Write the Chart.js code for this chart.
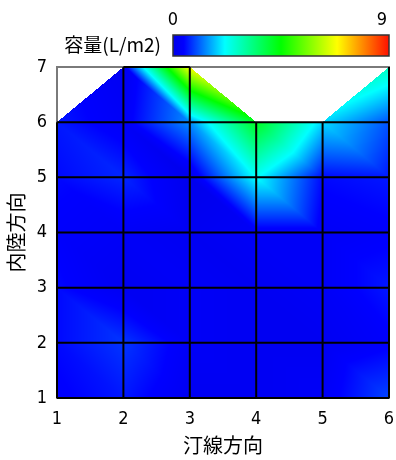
<!DOCTYPE html>
<html>
<head>
<meta charset="utf-8">
<script src="https://cdn.jsdelivr.net/npm/chart.js@4.4.1/dist/chart.umd.min.js"></script>
<style>
  html, body { margin: 0; padding: 0; background: #fff; }
  #wrap { width: 396px; height: 460px; }
</style>
</head>
<body>
<div id="wrap"><canvas id="chart" width="396" height="460"></canvas></div>
<script>
// mesh nodes
const xNodes = [1, 2, 3, 4, 5, 6];
const yNodes = [1, 2, 3, 4, 5, 6, 7];

// capacity (L/m2) at each node, one row per y, bottom row first
const capY1 = [0.4, 0.6, 0.2, 0.2, 0.3, 0.9];
const capY2 = [0.5, 0.8, 0.3, 0.2, 0.2, 0.4];
const capY3 = [0.5, 0.2, 0.3, 0.2, 0.3, 0.6];
const capY4 = [0.4, 0.3, 0.2, 0.3, 0.3, 0.4];
const capY5 = [0.5, 0.7, 0.1, 2.2, 0.5, 0.6];
const capY6 = [0.6, 0.3, 1.4, 4.2, 1.9, 1.0];
const capY7 = [null, 0.2, 6.8, null, null, 2.7];
const capacity = [capY1, capY2, capY3, capY4, capY5, capY6, capY7];

// element shape of each cell: full quad, lower-right / lower-left triangle, or empty
const cellsY1 = ['full', 'full', 'full', 'full', 'full'];
const cellsY2 = ['full', 'full', 'full', 'full', 'full'];
const cellsY3 = ['full', 'full', 'full', 'full', 'full'];
const cellsY4 = ['full', 'full', 'full', 'full', 'full'];
const cellsY5 = ['full', 'full', 'full', 'full', 'full'];
const cellsY6 = ['lr', 'full', 'll', 'none', 'lr'];
const cellShapes = [cellsY1, cellsY2, cellsY3, cellsY4, cellsY5, cellsY6];

const xTicks = [1, 2, 3, 4, 5, 6];
const yTicks = [1, 2, 3, 4, 5, 6, 7];
const colorTicks = [0, 9];

const colorStops = [
  [0.00, [0, 0, 232]],
  [0.05, [0, 0, 255]],
  [0.24, [0, 255, 255]],
  [0.50, [0, 255, 0]],
  [0.76, [255, 255, 0]],
  [1.00, [255, 16, 0]]
];

const numFont = "'Liberation Sans Narrow', 'DejaVu Sans Condensed', sans-serif";
const jpFont = "'Noto Sans CJK JP', sans-serif";

function colorFor(v) {
  const lo = colorTicks[0], hi = colorTicks[colorTicks.length - 1];
  let t = (v - lo) / (hi - lo);
  t = Math.max(0, Math.min(1, t));
  for (let k = 1; k < colorStops.length; k++) {
    const [t1, c1] = colorStops[k];
    const [t0, c0] = colorStops[k - 1];
    if (t <= t1) {
      const f = (t - t0) / (t1 - t0);
      return [0, 1, 2].map(n => Math.round(c0[n] + (c1[n] - c0[n]) * f));
    }
  }
  return colorStops[colorStops.length - 1][1];
}

// nodes of an element, counter-clockwise
function elementNodes(i, j, shape) {
  if (shape === 'full') return [[i, j], [i + 1, j], [i + 1, j + 1], [i, j + 1]];
  if (shape === 'lr') return [[i, j], [i + 1, j], [i + 1, j + 1]];
  if (shape === 'll') return [[i, j], [i + 1, j], [i, j + 1]];
  return [];
}

// linear interpolation on triangles, quads split along the "\" diagonal
function valueAt(xv, yv) {
  let i = 0, j = 0;
  while (i < xNodes.length - 2 && xv > xNodes[i + 1]) i++;
  while (j < yNodes.length - 2 && yv > yNodes[j + 1]) j++;
  const u = (xv - xNodes[i]) / (xNodes[i + 1] - xNodes[i]);
  const v = (yv - yNodes[j]) / (yNodes[j + 1] - yNodes[j]);
  const shape = cellShapes[j][i];
  const v00 = capacity[j][i], v10 = capacity[j][i + 1];
  const v01 = capacity[j + 1][i], v11 = capacity[j + 1][i + 1];
  if (shape === 'none') return null;
  if (shape === 'lr') {
    if (v > u) return null;
    return v00 * (1 - u) + v10 * (u - v) + v11 * v;
  }
  if (shape === 'll' || u + v <= 1) {
    if (u + v > 1) return null;
    return v00 * (1 - u - v) + v10 * u + v01 * v;
  }
  return v11 * (u + v - 1) + v10 * (1 - v) + v01 * (1 - u);
}

const contourPlugin = {
  id: 'contour',
  beforeDatasetsDraw(chart) {
    const { ctx, chartArea: a, scales: { x, y } } = chart;
    const w = Math.round(a.right - a.left), h = Math.round(a.bottom - a.top);
    const off = document.createElement('canvas');
    off.width = w; off.height = h;
    const octx = off.getContext('2d');
    const img = octx.createImageData(w, h);
    for (let py = 0; py < h; py++) {
      const yv = y.getValueForPixel(a.top + py + 0.5);
      for (let px = 0; px < w; px++) {
        const xv = x.getValueForPixel(a.left + px + 0.5);
        const val = valueAt(xv, yv);
        if (val === null) continue;
        const c = colorFor(val);
        const p = (py * w + px) * 4;
        img.data[p] = c[0]; img.data[p + 1] = c[1]; img.data[p + 2] = c[2]; img.data[p + 3] = 255;
      }
    }
    octx.putImageData(img, 0, 0);
    ctx.drawImage(off, Math.round(a.left), Math.round(a.top));
  },
  afterDatasetsDraw(chart) {
    const { ctx, chartArea: a, scales: { x, y } } = chart;
    ctx.save();
    // outer frame
    ctx.strokeStyle = '#7a7a7a';
    ctx.lineWidth = 2;
    ctx.strokeRect(a.left, a.top, a.right - a.left, a.bottom - a.top);
    // mesh edges (axis-aligned sides of each element)
    ctx.strokeStyle = '#000';
    ctx.lineWidth = 2;
    ctx.beginPath();
    cellShapes.forEach((row, j) => row.forEach((shape, i) => {
      const nodes = elementNodes(i, j, shape);
      nodes.forEach((n, k) => {
        const m = nodes[(k + 1) % nodes.length];
        if (n[0] !== m[0] && n[1] !== m[1]) return;
        ctx.moveTo(x.getPixelForValue(xNodes[n[0]]), y.getPixelForValue(yNodes[n[1]]));
        ctx.lineTo(x.getPixelForValue(xNodes[m[0]]), y.getPixelForValue(yNodes[m[1]]));
      });
    }));
    ctx.stroke();
    ctx.restore();
  },
  afterDraw(chart) {
    const { ctx } = chart;
    const bar = { left: 173, right: 389, top: 35, bottom: 56 };
    ctx.save();
    const grad = ctx.createLinearGradient(bar.left, 0, bar.right, 0);
    colorStops.forEach(([t, c]) => grad.addColorStop(t, `rgb(${c[0]},${c[1]},${c[2]})`));
    ctx.fillStyle = grad;
    ctx.fillRect(bar.left, bar.top, bar.right - bar.left, bar.bottom - bar.top);
    ctx.strokeStyle = '#333';
    ctx.lineWidth = 1.5;
    ctx.strokeRect(bar.left, bar.top, bar.right - bar.left, bar.bottom - bar.top);

    ctx.fillStyle = '#000';
    ctx.font = `18px ${numFont}`;
    ctx.textBaseline = 'middle';
    const lo = colorTicks[0], hi = colorTicks[colorTicks.length - 1];
    colorTicks.forEach((t, k) => {
      const px = bar.left + (t - lo) / (hi - lo) * (bar.right - bar.left);
      ctx.textAlign = k === colorTicks.length - 1 ? 'right' : 'center';
      ctx.fillText(String(t), k === colorTicks.length - 1 ? px - 2 : px, 20);
    });
    ctx.font = `19px ${jpFont}`;
    ctx.textAlign = 'right';
    ctx.fillText('容量(L/m2)', 161, 45);
    ctx.restore();
  }
};

const nodePoints = [];
capacity.forEach((row, j) => row.forEach((v, i) => {
  if (v !== null) nodePoints.push({ x: xNodes[i], y: yNodes[j], v: v });
}));

new Chart(document.getElementById('chart'), {
  type: 'scatter',
  data: {
    datasets: [{ label: '容量', data: nodePoints, pointRadius: 0, pointHoverRadius: 0 }]
  },
  options: {
    responsive: false,
    animation: false,
    devicePixelRatio: 1,
    layout: { padding: { top: 67, right: 7, left: 0, bottom: 0 } },
    plugins: { legend: { display: false }, tooltip: { enabled: false } },
    scales: {
      x: {
        type: 'linear',
        min: xTicks[0],
        max: xTicks[xTicks.length - 1],
        afterBuildTicks: s => { s.ticks = xTicks.map(v => ({ value: v })); },
        afterFit: s => { s.height = 62; s.paddingLeft = 0; s.paddingRight = 0; },
        grid: { display: false, drawTicks: false },
        border: { display: false },
        ticks: { color: '#000', font: { family: numFont, size: 18 }, padding: 11, maxRotation: 0 },
        title: { display: true, text: '汀線方向', color: '#000', font: { family: jpFont, size: 20 }, padding: { top: 0, bottom: 3 } }
      },
      y: {
        type: 'linear',
        min: yTicks[0],
        max: yTicks[yTicks.length - 1],
        afterBuildTicks: s => { s.ticks = yTicks.map(v => ({ value: v })); },
        afterFit: s => { s.width = 57; s.paddingTop = 0; s.paddingBottom = 0; },
        grid: { display: false, drawTicks: false },
        border: { display: false },
        ticks: { color: '#000', font: { family: numFont, size: 18 }, padding: 10 },
        title: { display: true, text: '内陸方向', color: '#000', font: { family: jpFont, size: 20 }, padding: { top: 4, bottom: 0 } }
      }
    }
  },
  plugins: [contourPlugin]
});
</script>
</body>
</html>
